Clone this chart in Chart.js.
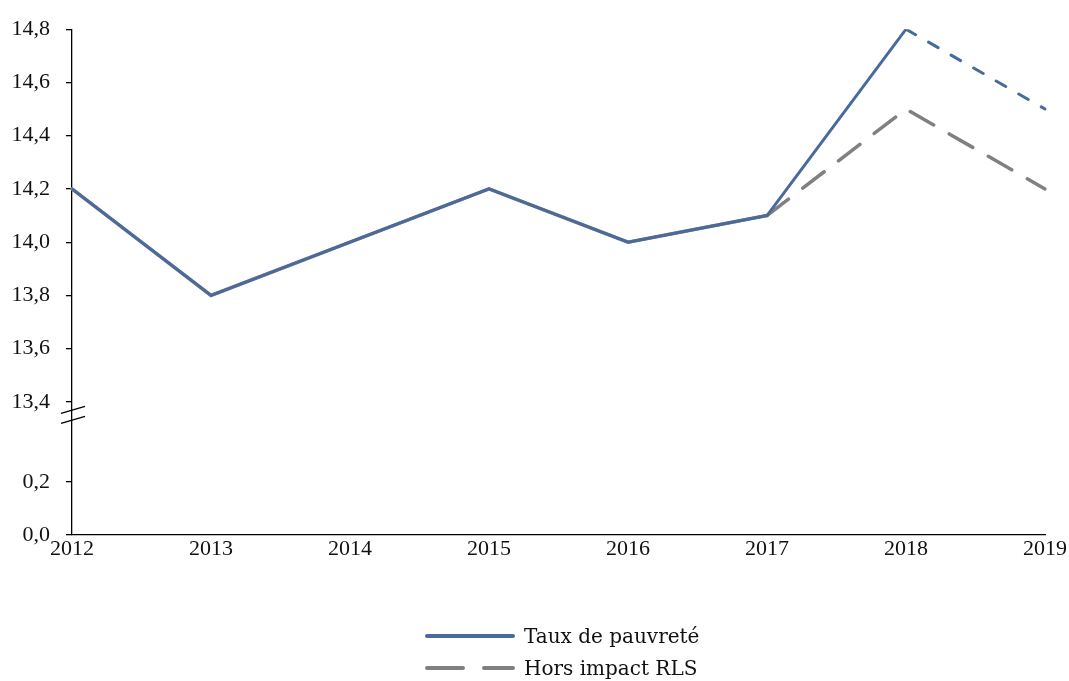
<!DOCTYPE html>
<html lang="fr">
<head>
<meta charset="UTF-8">
<title>Taux de pauvreté</title>
<script src="https://cdn.jsdelivr.net/npm/chart.js@4/dist/chart.umd.min.js"></script>
<style>
  html, body { margin: 0; padding: 0; background: #fff; }
  #wrap { position: relative; width: 1069px; height: 681px; }
  canvas { position: absolute; left: 0; top: 0; }
  .leg { position: absolute; left: 425px; height: 24px; display: flex; align-items: center;
         font-family: 'DejaVu Serif', serif; font-size: 20px; color: #111; white-space: nowrap; }
  .leg svg { margin-right: 9px; }
</style>
</head>
<body>
<div id="wrap">
  <canvas id="chart" width="1069" height="681"></canvas>
  <div class="leg" style="top:624px">
    <svg width="90" height="6"><line x1="2" y1="3" x2="88" y2="3" stroke="#4A6A9D" stroke-width="4" stroke-linecap="round"/></svg>
    Taux de pauvreté
  </div>
  <div class="leg" style="top:656px">
    <svg width="90" height="6"><line x1="2" y1="3" x2="88" y2="3" stroke="#808080" stroke-width="4" stroke-linecap="round" stroke-dasharray="36 21"/></svg>
    Hors impact RLS
  </div>
</div>
<script>
const years = ['2012', '2013', '2014', '2015', '2016', '2017', '2018', '2019'];
const tauxPauvrete = [14.2, 13.8, 14.0, 14.2, 14.0, 14.1, 14.8, 14.5];
const horsImpactRLS = [14.2, 13.8, 14.0, 14.2, 14.0, 14.1, 14.5, 14.2];
const tickValues = [0.0, 0.2, 13.4, 13.6, 13.8, 14.0, 14.2, 14.4, 14.6, 14.8];
const tickLabels = ['0,0', '0,2', '13,4', '13,6', '13,8', '14,0', '14,2', '14,4', '14,6', '14,8'];

// broken axis: 0.2 -> 13.4 squeezed into a gap of 0.3
const BREAK_LO = 0.2, BREAK_HI = 13.4, GAP = 0.3;
const toAxis = v => v <= BREAK_LO ? v : v - BREAK_HI + BREAK_LO + GAP;

const BLUE = '#4A6A9D', GREY = '#808080';
const serif = "'Liberation Serif', 'Times New Roman', serif";

const axisBreak = {
  id: 'axisBreak',
  afterDraw(chart) {
    const y = chart.scales.y, ctx = chart.ctx;
    const x0 = chart.chartArea.left;
    const yc = y.getPixelForValue(BREAK_LO + GAP * 0.9) + 5;
    ctx.save();
    ctx.strokeStyle = '#000';
    ctx.lineWidth = 1.4;
    [-5, 5].forEach(d => {
      ctx.beginPath();
      ctx.moveTo(x0 - 11, yc + d + 3.5);
      ctx.lineTo(x0 + 13, yc + d - 3.5);
      ctx.stroke();
    });
    ctx.restore();
  }
};

new Chart(document.getElementById('chart'), {
  type: 'line',
  data: {
    labels: years,
    datasets: [
      {
        label: 'Taux de pauvreté',
        data: tauxPauvrete.map(toAxis),
        borderColor: BLUE, borderWidth: 3, pointRadius: 0, tension: 0,
        borderJoinStyle: 'round',
        segment: {
          borderDash: c => c.p0DataIndex >= 6 ? [11, 15] : undefined,
          borderCapStyle: c => c.p0DataIndex >= 6 ? 'round' : 'butt'
        }
      },
      {
        label: 'Hors impact RLS',
        data: horsImpactRLS.map(toAxis),
        borderColor: GREY, borderWidth: 3.5, pointRadius: 0, tension: 0,
        borderCapStyle: 'round',
        segment: {
          borderDash: c => c.p0DataIndex >= 5 ? [27, 18] : undefined
        }
      }
    ]
  },
  options: {
    responsive: false,
    animation: false,
    layout: { padding: { top: 28, right: 24, left: 0, bottom: 0 } },
    plugins: { legend: { display: false }, tooltip: { enabled: false } },
    scales: {
      x: {
        type: 'category',
        offset: false,
        afterFit: s => { s.height = 146; },
        grid: { display: false, drawTicks: false },
        border: { display: true, color: '#000', width: 1.3 },
        ticks: { color: '#111', padding: 1, maxRotation: 0, autoSkip: false,
                 font: { family: serif, size: 22 } }
      },
      y: {
        min: 0,
        max: toAxis(14.8),
        afterFit: s => { s.width = 72; },
        afterBuildTicks: s => { s.ticks = tickValues.map(v => ({ value: toAxis(v) })); },
        grid: { drawOnChartArea: false, drawTicks: true, tickLength: 6, color: '#000', lineWidth: 1.3 },
        border: { display: true, color: '#000', width: 1.3 },
        ticks: {
          color: '#111', padding: 16,
          font: { family: serif, size: 22 },
          callback: (v, i) => tickLabels[i]
        }
      }
    }
  },
  plugins: [axisBreak]
});
</script>
</body>
</html>
